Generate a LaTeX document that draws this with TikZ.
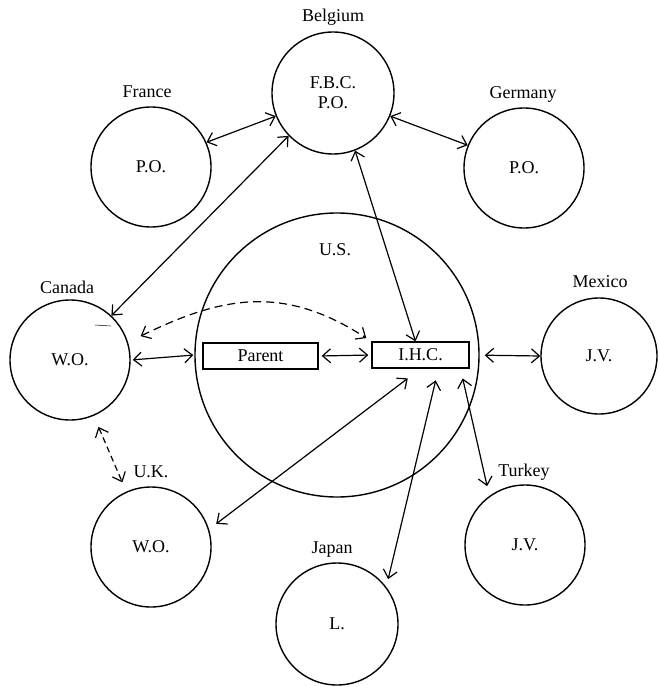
\documentclass[tikz,border=0pt]{standalone}
\usepackage{fontspec}
\setmainfont{Liberation Serif}
\usetikzlibrary{arrows.meta}
\begin{document}
\begin{tikzpicture}[x=1pt,y=-1pt,
  font=\fontsize{18}{20}\selectfont,
  country/.style={circle, draw, line width=1.4pt, inner sep=0pt},
  box/.style={draw, line width=1.4pt, minimum height=26pt, inner sep=0pt},
  lbl/.style={inner sep=0pt},
  link/.style={line width=1.2pt, {Straight Barb[length=8pt,width=14pt]}-{Straight Barb[length=8pt,width=14pt]}},
]
\useasboundingbox (0,0) rectangle (658,687);
% circles
\node[country, minimum size=122pt, align=center] (bel) at (333,93) {F.B.C.\\P.O.};
\node[country, minimum size=120pt] (fra) at (151,167) {P.O.};
\node[country, minimum size=120pt] (ger) at (524,168) {P.O.};
\node[country, minimum size=120pt] (can) at (70,360) {W.O.};
\node[country, minimum size=284pt] (us) at (337,355) {};
\node[country, minimum size=116pt] (mex) at (599,356) {J.V.};
\node[country, minimum size=120pt] (uk) at (151,547) {W.O.};
\node[country, minimum size=122pt] (jap) at (337,624) {L.};
\node[country, minimum size=120pt] (tur) at (525,545) {J.V.};
% labels
\node[lbl] (lbel) at (333,17) {Belgium};
\node[lbl] (lfra) at (147,92) {France};
\node[lbl] (lger) at (523,94) {Germany};
\node[lbl] (lcan) at (67,287) {Canada};
\node[lbl] (lmex) at (600,282) {Mexico};
\node[lbl] (lus) at (335,250) {U.S.};
\node[lbl] (luk) at (151,472) {U.K.};
\node[lbl] (ljap) at (332,550) {Japan};
\node[lbl] (ltur) at (524,472) {Turkey};
% boxes
\node[box, minimum width=115pt] (par) at (260.5,356) {Parent};
\node[box, minimum width=97pt] (ihc) at (420.5,355) {I.H.C.};
% connectors
\draw[link] (fra.24) -- (bel.202);
\draw[link] (bel.338) -- (ger.158);
\draw[link] (can.47) -- (bel.224);
\draw[link] (bel.291) -- ([xshift=-5pt]ihc.north);
\draw[link, shorten <=2pt, shorten >=1pt] (can.east) -- (us.west);
\draw[link, shorten <=3pt, shorten >=3pt] (par.east) -- (ihc.west);
\draw[link, shorten <=15pt] (ihc.east) -- (mex.west);
\draw[link, shorten <=16pt, shorten >=9pt] (ihc.south) -- (uk.17);
\draw[link, shorten <=12pt, shorten >=8pt] ([xshift=18pt]ihc.south) -- (jap.37);
\draw[link, shorten <=10pt, shorten >=10pt] ([xshift=40pt]ihc.south) -- (tur.126);
\draw[link, dash pattern=on 8pt off 5pt, shorten <=14pt, shorten >=6pt]
  (can.17) .. controls +(94,-46) and +(-88,-57) .. (ihc.north west);
\draw[link, dash pattern=on 6pt off 4pt, shorten <=12pt, shorten >=10pt] (can.293) -- (uk.114);
\draw[line width=0.5pt] (95,325) -- (111,326);
\end{tikzpicture}
\end{document}
